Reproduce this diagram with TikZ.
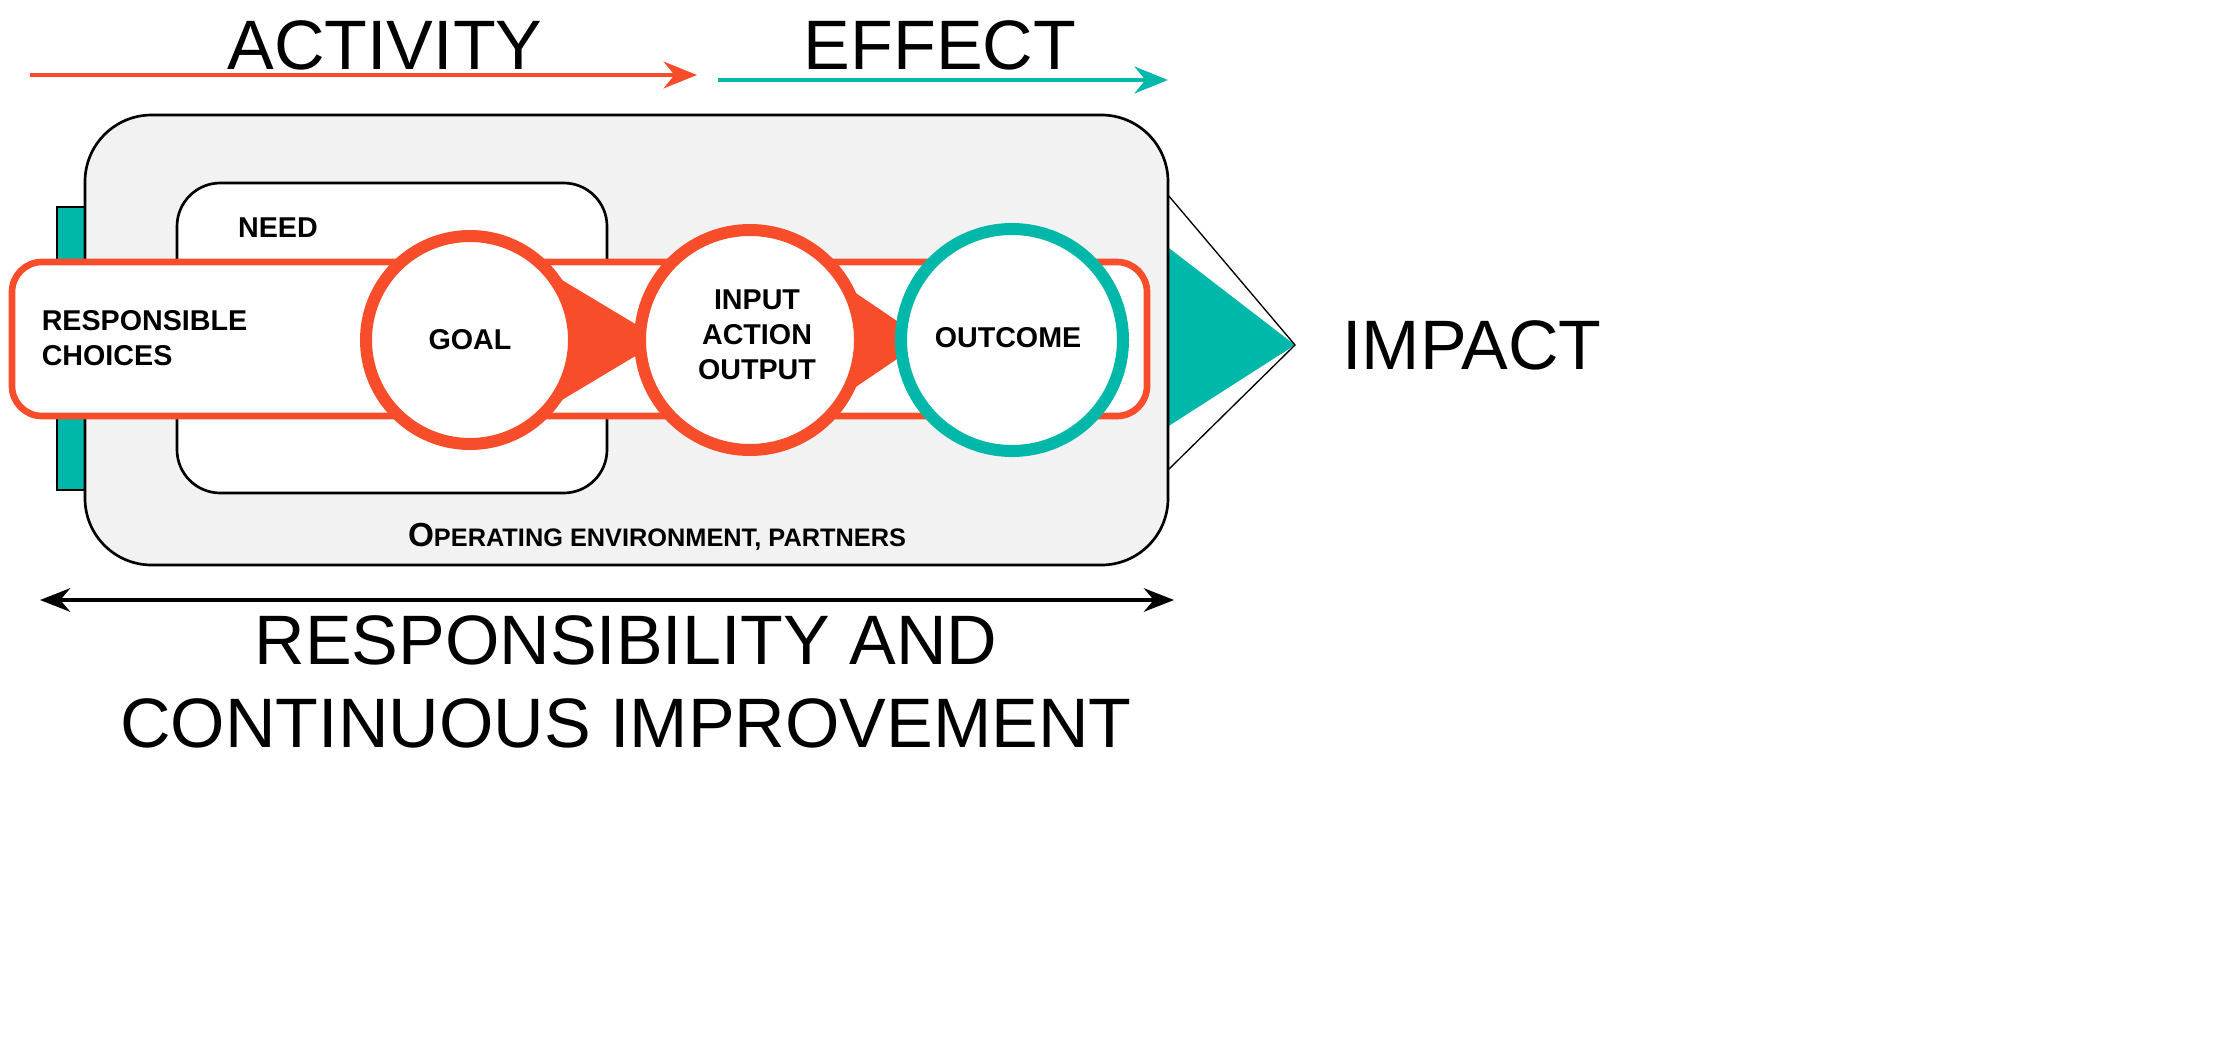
\documentclass[tikz,border=0pt]{standalone}
\usepackage{fontspec}
\setmainfont{Liberation Sans}
\usetikzlibrary{arrows.meta,calc}
\definecolor{redor}{RGB}{247,77,43}
\definecolor{teal2}{RGB}{0,184,170}
\definecolor{boxgray}{RGB}{242,242,242}
\tikzset{
  big/.style={font=\fontsize{21}{25}\selectfont},
  lbl/.style={font=\fontsize{8.6}{10.5}\selectfont\bfseries, align=center},
  ring/.style={line width=3.6pt, fill=white}
}
\begin{document}
\begin{tikzpicture}[x=0.3pt,y=-0.3pt]
    \useasboundingbox (0,0) rectangle (2225,1047);
    % header arrows
    \coordinate (a1) at (30,75); \coordinate (a2) at (697,75);
    \coordinate (e1) at (718,80); \coordinate (e2) at (1168,80);
    \draw [redor, line width=1.4pt, -{Stealth[length=10pt,width=8pt]}] (a1) -- (a2);
    \draw [teal2, line width=1.4pt, -{Stealth[length=10pt,width=8pt]}] (e1) -- (e2);
    \node (act) [big] at (385,45) {ACTIVITY};
    \node (eff) [big] at (940,45) {EFFECT};
    % teal arrow behind
    \fill [teal2] (57,207) rectangle (200,490);
    \draw [black, line width=0.4pt] (57,207) rectangle (200,490);
    \fill [teal2] (1100,195) -- (1295,345) -- (1100,470) -- cycle;
    \draw [line width=0.4pt] (1168,195) -- (1295,345) -- (1168,470);
    % operating environment
    \draw [fill=boxgray, line width=0.8pt, rounded corners=20pt] (85,115) rectangle (1168,565);
    \node (env) at (657,537) {\fontsize{10}{12}\selectfont\bfseries O\fontsize{7.6}{9}\selectfont PERATING ENVIRONMENT, \fontsize{7.6}{9}\selectfont PARTNERS};
    % need box
    \draw [fill=white, line width=0.8pt, rounded corners=13pt] (177,183) rectangle (607,493);
    \node (need) [lbl] at (278,228) {NEED};
    % band
    \draw [redor, fill=white, line width=2pt, rounded corners=9pt] (12,262) rectangle (1147,416);
    \node (resp) [lbl, align=left, anchor=west] at (30,338) {RESPONSIBLE\\CHOICES};
    % circles
    \fill [redor] (662,340) -- ($(470,340)+(50:100)$) -- ($(470,340)+(-50:100)$) -- cycle;
    \draw [redor, ring] (470,340) circle (104);
    \fill [redor] (925,340) -- ($(750,340)+(45:100)$) -- ($(750,340)+(-45:100)$) -- cycle;
    \draw [redor, ring] (750,340) circle (110);
    \draw [teal2, ring] (1012,340) circle (111);
    \node (goal) [lbl] at (470,340) {GOAL};
    \node (iao) [lbl] at (757,335) {INPUT\\ACTION\\OUTPUT};
    \node (out) [lbl] at (1008,338) {OUTCOME};
    \node (imp) [big] at (1472,345) {IMPACT};
    % bottom
    \coordinate (b1) at (40,600); \coordinate (b2) at (1174,600);
    \draw [line width=1.4pt, {Stealth[length=9pt,width=7pt]}-{Stealth[length=9pt,width=7pt]}] (b1) -- (b2);
    \node (ri) [big, align=center] at (626,682) {RESPONSIBILITY AND\\CONTINUOUS IMPROVEMENT};
\end{tikzpicture}
\end{document}
